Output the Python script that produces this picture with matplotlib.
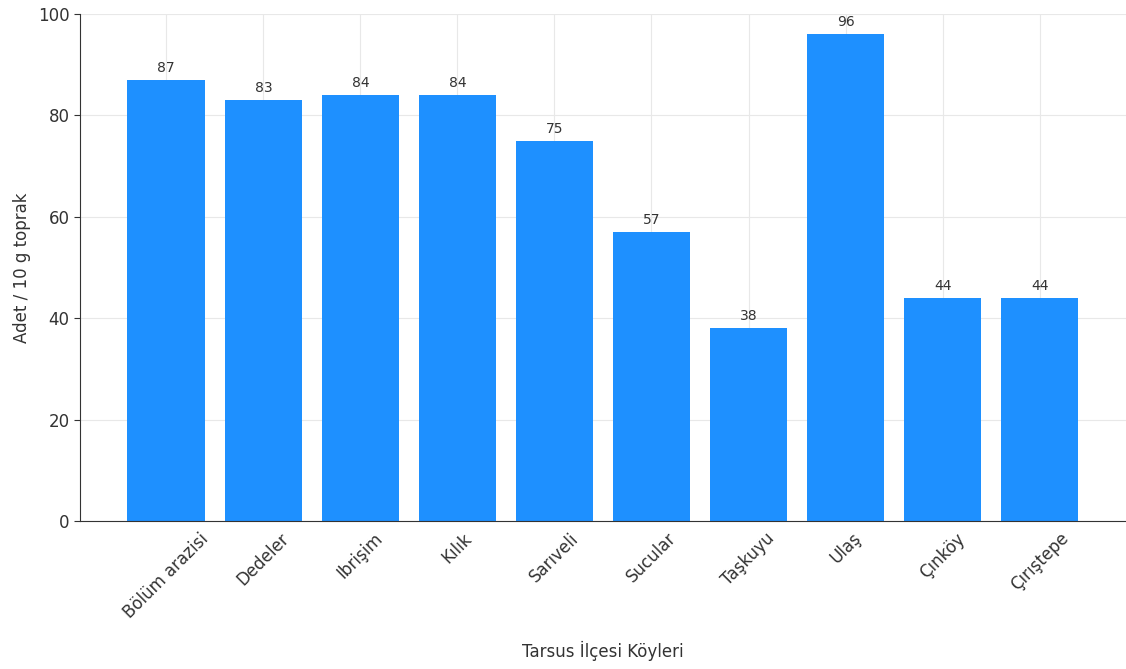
import matplotlib
matplotlib.use("Agg")
import matplotlib.pyplot as plt

categories = ["Bölüm arazisi", "Dedeler", "Ibrişim", "Kılık", "Sarıveli",
              "Sucular", "Taşkuyu", "Ulaş", "Çınköy", "Çırıştepe"]
values = [87, 83, 84, 84, 75, 57, 38, 96, 44, 44]

plt.rcParams['font.family'] = ['DejaVu Sans']
fig = plt.figure(figsize=(11.26, 6.69), dpi=100)
ax = fig.add_axes([0.071, 0.221, 0.929, 0.758])

x = range(len(categories))
bars = ax.bar(x, values, width=0.8, color="#1E90FF", zorder=2)
for b, v in zip(bars, values):
    ax.text(b.get_x() + b.get_width() / 2, v + 1, str(v), ha="center", va="bottom",
            fontsize=10, color="#333333")

ax.set_ylim(0, 100)
ax.set_xticks(list(x))
ax.set_xticklabels(categories, rotation=45, ha="center",
                   fontsize=12, color="#333333")
ax.tick_params(axis="y", labelsize=12, colors="#333333", length=4)
ax.tick_params(axis="x", length=0, pad=6)
ax.set_xlabel("Tarsus İlçesi Köyleri", fontsize=12, color="#333333", labelpad=14)
ax.set_ylabel("Adet / 10 g toprak", fontsize=12, color="#333333", labelpad=5)
ax.grid(True, color="#e8e8e8", linewidth=0.8, zorder=0)
ax.set_axisbelow(True)
for s in ["top", "right"]:
    ax.spines[s].set_visible(False)
for s in ["left", "bottom"]:
    ax.spines[s].set_color("#333333")

fig.savefig("out.png", dpi=100)
